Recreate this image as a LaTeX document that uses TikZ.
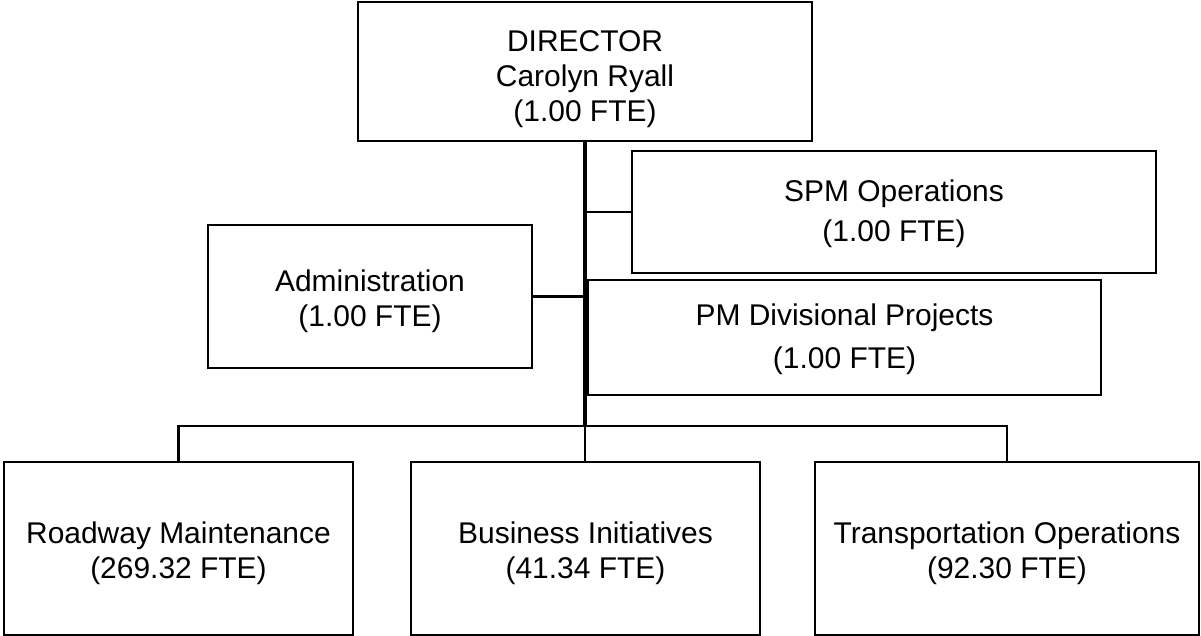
\documentclass[tikz,border=0pt]{standalone}
\usepackage{fontspec}
\setmainfont{Liberation Sans}
\usepackage{tikz}
\usetikzlibrary{positioning,calc}
% invisible strut pushing a box text down a little
\newcommand{\lift}[1]{\rule{0pt}{#1}}

\begin{document}
\begin{tikzpicture}[x=0.025cm, y=-0.025cm,
  orgbox/.style={draw, line width=1.6pt, inner sep=0pt, align=center,
    font=\fontsize{21.3}{25}\selectfont},
  spmbox/.style={orgbox, font=\fontsize{21.3}{28.4}\selectfont},
  pmbox/.style={orgbox, font=\fontsize{21.3}{31}\selectfont},
  link/.style={line width=1.6pt},
  trunk/.style={line width=2.4pt}]
  \useasboundingbox (0,0) rectangle (1201,636);

  % Director on top
  \node[orgbox, minimum width=454*0.025cm, minimum height=139*0.025cm] (dir) at (585, 71.5)
    {\lift{26pt}DIRECTOR\\Carolyn Ryall\\(1.00 FTE)};

  % Staff boxes beside the trunk
  \node[spmbox, minimum width=524*0.025cm, minimum height=122*0.025cm] (spm) at (894, 212)
    {\lift{18pt}SPM Operations\\(1.00 FTE)};
  \node[orgbox, minimum width=324*0.025cm, minimum height=143*0.025cm] (adm) at (370, 296.5)
    {\lift{22pt}Administration\\(1.00 FTE)};
  \node[pmbox, minimum width=513*0.025cm, minimum height=115*0.025cm] (pmd) at (844.5, 337.5)
    {\lift{18pt}PM Divisional Projects\\(1.00 FTE)};

  % Divisions at the bottom
  \node[orgbox, minimum width=349*0.025cm, minimum height=173*0.025cm] (road) at (178.5, 548.5)
    {\lift{22pt}Roadway Maintenance\\(269.32 FTE)};
  \node[orgbox, minimum width=349*0.025cm, minimum height=173*0.025cm] (bus) at (585.5, 548.5)
    {\lift{22pt}Business Initiatives\\(41.34 FTE)};
  \node[orgbox, minimum width=384*0.025cm, minimum height=173*0.025cm] (trans) at (1007, 548.5)
    {\lift{22pt}Transportation Operations\\(92.30 FTE)};

  % Trunk and branches
  \coordinate (bar) at (585, 426);
  \draw[trunk] (dir.south) -- (bar);
  \draw[link] (spm.west) -- (spm.west -| dir.south);
  \draw[link] (adm.east) -- (adm.east -| dir.south);
  \draw[link] (road.north) |- (bar) -| (trans.north);
  \draw[link] (bar) -- (bar |- bus.north);
\end{tikzpicture}
\end{document}
